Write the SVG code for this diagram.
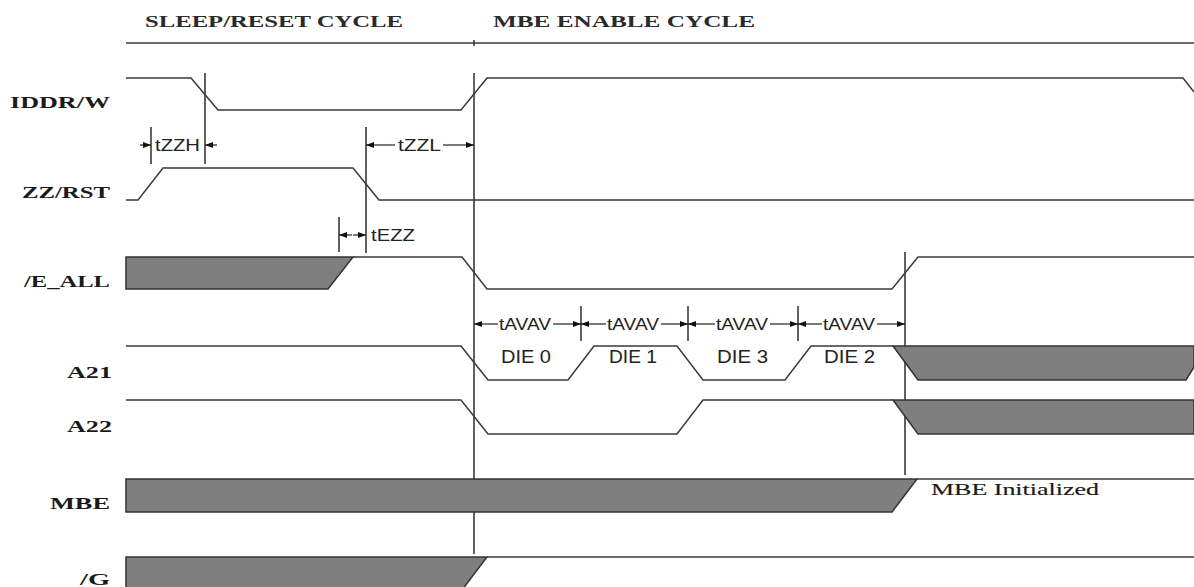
<svg xmlns="http://www.w3.org/2000/svg" width="1194" height="587" viewBox="0 0 1194 587">
<style>
.sig{fill:none;stroke:#3a3a3a;stroke-width:1.5;stroke-linejoin:miter}
.bus{fill:#7f7f7f;stroke:#333;stroke-width:1.5}
.mk{fill:none;stroke:#3a3a3a;stroke-width:1.6}
.dim{fill:none;stroke:#222;stroke-width:1.2}
.hdr{font-family:"Liberation Serif","Times New Roman",serif;font-size:17.5px;font-weight:bold;fill:#2a2a2a}
.mi{font-family:"Liberation Serif","Times New Roman",serif;font-size:17.5px;fill:#1a1a1a;stroke:#1a1a1a;stroke-width:0.15}
.lbl{font-family:"Liberation Serif","Times New Roman",serif;font-size:17.5px;font-weight:bold;fill:#1a1a1a}
.tm{font-family:"Liberation Sans",Arial,sans-serif;font-size:16.5px;fill:#222}
.die{font-family:"Liberation Sans",Arial,sans-serif;font-size:18px;fill:#222}
</style>
<defs>
<marker id="ah" markerUnits="userSpaceOnUse" markerWidth="9" markerHeight="7" refX="8" refY="3" orient="auto">
<path d="M0,0 L8,3 L0,6 z" fill="#111"/>
</marker>
</defs>
<rect width="1194" height="587" fill="#fff"/>

<g id="header">
<line class="sig" x1="126" y1="43" x2="1194" y2="43"/>
<line class="mk" x1="474" y1="40" x2="474" y2="46"/>
<text class="hdr" x="145" y="27" textLength="258" lengthAdjust="spacingAndGlyphs">SLEEP/RESET CYCLE</text>
<text class="hdr" x="493" y="27" textLength="262" lengthAdjust="spacingAndGlyphs">MBE ENABLE CYCLE</text>
</g>

<g id="labels">
<text class="lbl" x="10" y="108" textLength="100" lengthAdjust="spacingAndGlyphs">IDDR/W</text>
<text class="lbl" x="22" y="198" textLength="88" lengthAdjust="spacingAndGlyphs">ZZ/RST</text>
<text class="lbl" x="24" y="287" textLength="86" lengthAdjust="spacingAndGlyphs">/E_ALL</text>
<text class="lbl" x="67" y="378" textLength="45" lengthAdjust="spacingAndGlyphs">A21</text>
<text class="lbl" x="67" y="432" textLength="45" lengthAdjust="spacingAndGlyphs">A22</text>
<text class="lbl" x="50" y="509" textLength="60" lengthAdjust="spacingAndGlyphs">MBE</text>
<text class="lbl" x="80" y="585" textLength="30" lengthAdjust="spacingAndGlyphs">/G</text>
</g>

<g id="markers">
<line class="mk" x1="474" y1="73" x2="474" y2="554"/>
<line class="mk" x1="205" y1="73" x2="205" y2="164"/>
<line class="mk" x1="151" y1="127" x2="151" y2="164"/>
<line class="mk" x1="366" y1="127" x2="366" y2="253"/>
<line class="mk" x1="339" y1="217" x2="339" y2="252"/>
<line class="mk" x1="905" y1="252" x2="905" y2="475"/>
<line class="mk" x1="581" y1="306" x2="581" y2="341"/>
<line class="mk" x1="688" y1="306" x2="688" y2="341"/>
<line class="mk" x1="798" y1="306" x2="798" y2="341"/>
</g>

<g id="sig-iddr">
<polyline class="sig" points="126,78 191,78 218,110 461,110 487,78 1183,78 1194,92"/>
</g>
<g id="sig-zz">
<polyline class="sig" points="126,200 138,200 163,168 353,168 379,200 1194,200"/>
</g>
<g id="sig-eall">
<polygon class="bus" points="126,257 353,257 328,289 126,289"/>
<polyline class="sig" points="353,257 462,257 487,289 892,289 918,257 1194,257"/>
</g>
<g id="sig-a21">
<polyline class="sig" points="126,346 461,346 488,380 568,380 594,346 677,346 703,380 785,380 811,346 893,346"/>
<polygon class="bus" points="893,346 1194,346 1194,367 1186,380 918,380"/>
</g>
<g id="sig-a22">
<polyline class="sig" points="126,400 461,400 488,434 677,434 703,400 893,400"/>
<polygon class="bus" points="893,400 1194,400 1194,434 918,434"/>
</g>
<g id="sig-mbe">
<polygon class="bus" points="126,479 917,479 892,512 126,512"/>
<line class="sig" x1="917" y1="479" x2="1194" y2="479"/>
<text class="mi" x="931" y="495" textLength="168" lengthAdjust="spacingAndGlyphs">MBE Initialized</text>
</g>
<g id="sig-g">
<polygon class="bus" points="126,557 487,557 462,590 126,590"/>
<line class="sig" x1="487" y1="557" x2="1194" y2="557"/>
</g>

<g id="timing">
<line class="dim" x1="140" y1="145" x2="151" y2="145" marker-end="url(#ah)"/>
<line class="dim" x1="217" y1="145" x2="205" y2="145" marker-end="url(#ah)"/>
<text class="tm" x="155" y="151" textLength="45" lengthAdjust="spacingAndGlyphs">tZZH</text>

<line class="dim" x1="395" y1="145" x2="366" y2="145" marker-end="url(#ah)"/>
<line class="dim" x1="443" y1="145" x2="474" y2="145" marker-end="url(#ah)"/>
<text class="tm" x="398" y="151" textLength="43" lengthAdjust="spacingAndGlyphs">tZZL</text>

<line class="dim" x1="352" y1="235" x2="339" y2="235" marker-end="url(#ah)"/>
<line class="dim" x1="353" y1="235" x2="366" y2="235" marker-end="url(#ah)"/>
<text class="tm" x="371" y="241" textLength="44" lengthAdjust="spacingAndGlyphs">tEZZ</text>

<line class="dim" x1="498" y1="324" x2="474" y2="324" marker-end="url(#ah)"/>
<line class="dim" x1="553" y1="324" x2="581" y2="324" marker-end="url(#ah)"/>
<text class="tm" x="499" y="330" textLength="52" lengthAdjust="spacingAndGlyphs">tAVAV</text>

<line class="dim" x1="606" y1="324" x2="581" y2="324" marker-end="url(#ah)"/>
<line class="dim" x1="661" y1="324" x2="688" y2="324" marker-end="url(#ah)"/>
<text class="tm" x="607" y="330" textLength="52" lengthAdjust="spacingAndGlyphs">tAVAV</text>

<line class="dim" x1="715" y1="324" x2="688" y2="324" marker-end="url(#ah)"/>
<line class="dim" x1="770" y1="324" x2="798" y2="324" marker-end="url(#ah)"/>
<text class="tm" x="716" y="330" textLength="52" lengthAdjust="spacingAndGlyphs">tAVAV</text>

<line class="dim" x1="822" y1="324" x2="798" y2="324" marker-end="url(#ah)"/>
<line class="dim" x1="877" y1="324" x2="905" y2="324" marker-end="url(#ah)"/>
<text class="tm" x="823" y="330" textLength="52" lengthAdjust="spacingAndGlyphs">tAVAV</text>
</g>

<g id="die-labels">
<text class="die" x="501" y="363" textLength="50" lengthAdjust="spacingAndGlyphs">DIE 0</text>
<text class="die" x="609" y="363" textLength="48" lengthAdjust="spacingAndGlyphs">DIE 1</text>
<text class="die" x="717" y="363" textLength="51" lengthAdjust="spacingAndGlyphs">DIE 3</text>
<text class="die" x="824" y="363" textLength="51" lengthAdjust="spacingAndGlyphs">DIE 2</text>
</g>
</svg>
